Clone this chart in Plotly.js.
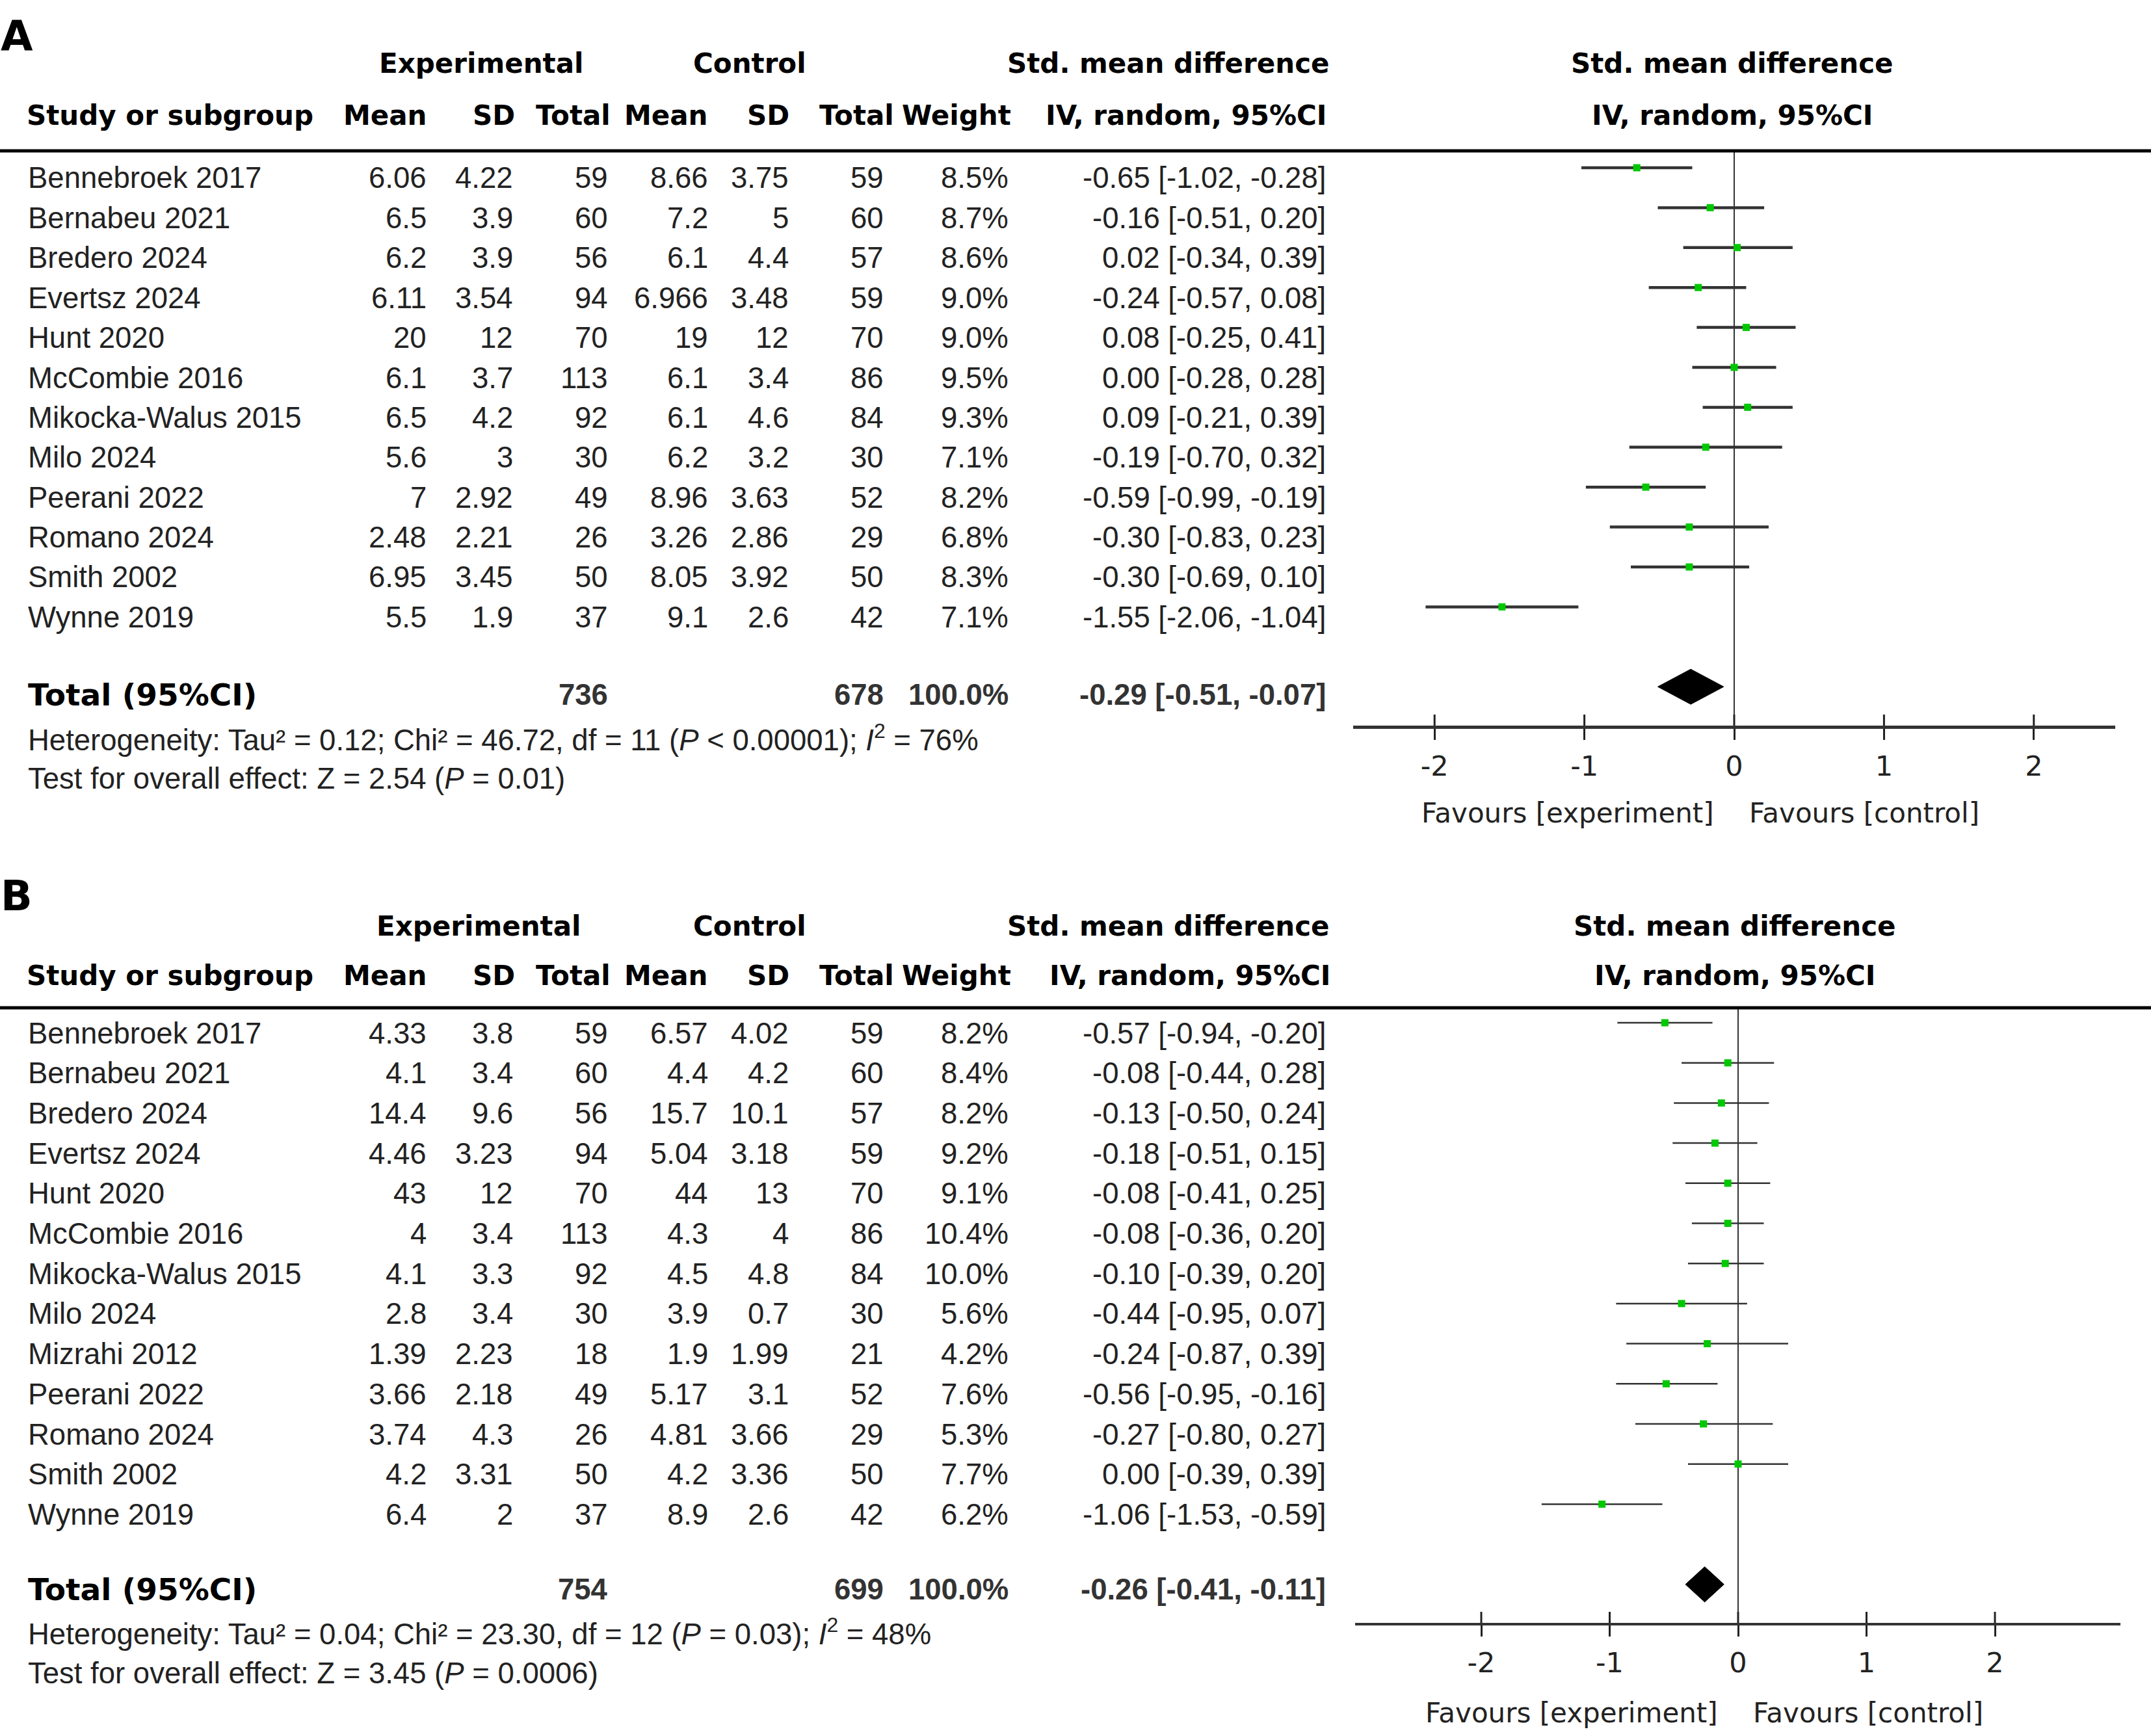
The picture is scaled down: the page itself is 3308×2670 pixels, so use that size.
<!DOCTYPE html>
<html><head><meta charset="utf-8">
<script src="https://cdn.plot.ly/plotly-3.0.1.min.js"></script>
<style>html,body{margin:0;padding:0;background:#fff}#chart{width:3308px;height:2670px}</style>
</head><body><div id="chart"></div>
<script>
// ---------------- DATA: panel A ----------------
const studiesA = ['Bennebroek 2017','Bernabeu 2021','Bredero 2024','Evertsz 2024','Hunt 2020','McCombie 2016','Mikocka-Walus 2015','Milo 2024','Peerani 2022','Romano 2024','Smith 2002','Wynne 2019'];
const expMeanA = ['6.06','6.5','6.2','6.11','20','6.1','6.5','5.6','7','2.48','6.95','5.5'];
const expSdA   = ['4.22','3.9','3.9','3.54','12','3.7','4.2','3','2.92','2.21','3.45','1.9'];
const expNA    = [59,60,56,94,70,113,92,30,49,26,50,37];
const ctlMeanA = ['8.66','7.2','6.1','6.966','19','6.1','6.1','6.2','8.96','3.26','8.05','9.1'];
const ctlSdA   = ['3.75','5','4.4','3.48','12','3.4','4.6','3.2','3.63','2.86','3.92','2.6'];
const ctlNA    = [59,60,57,59,70,86,84,30,52,29,50,42];
const weightA  = ['8.5%','8.7%','8.6%','9.0%','9.0%','9.5%','9.3%','7.1%','8.2%','6.8%','8.3%','7.1%'];
const smdA = [-0.65,-0.16,0.02,-0.24,0.08,0.00,0.09,-0.19,-0.59,-0.30,-0.30,-1.55];
const loA  = [-1.02,-0.51,-0.34,-0.57,-0.25,-0.28,-0.21,-0.70,-0.99,-0.83,-0.69,-2.06];
const hiA  = [-0.28,0.20,0.39,0.08,0.41,0.28,0.39,0.32,-0.19,0.23,0.10,-1.04];
const totalA = [736, 678, '100.0%'];
const pooledA = [-0.29,-0.51,-0.07];
const hetA = ['0.12','46.72','11','< 0.00001','76%'];
const testA = ['2.54','= 0.01'];

// ---------------- DATA: panel B ----------------
const studiesB = ['Bennebroek 2017','Bernabeu 2021','Bredero 2024','Evertsz 2024','Hunt 2020','McCombie 2016','Mikocka-Walus 2015','Milo 2024','Mizrahi 2012','Peerani 2022','Romano 2024','Smith 2002','Wynne 2019'];
const expMeanB = ['4.33','4.1','14.4','4.46','43','4','4.1','2.8','1.39','3.66','3.74','4.2','6.4'];
const expSdB   = ['3.8','3.4','9.6','3.23','12','3.4','3.3','3.4','2.23','2.18','4.3','3.31','2'];
const expNB    = [59,60,56,94,70,113,92,30,18,49,26,50,37];
const ctlMeanB = ['6.57','4.4','15.7','5.04','44','4.3','4.5','3.9','1.9','5.17','4.81','4.2','8.9'];
const ctlSdB   = ['4.02','4.2','10.1','3.18','13','4','4.8','0.7','1.99','3.1','3.66','3.36','2.6'];
const ctlNB    = [59,60,57,59,70,86,84,30,21,52,29,50,42];
const weightB  = ['8.2%','8.4%','8.2%','9.2%','9.1%','10.4%','10.0%','5.6%','4.2%','7.6%','5.3%','7.7%','6.2%'];
const smdB = [-0.57,-0.08,-0.13,-0.18,-0.08,-0.08,-0.10,-0.44,-0.24,-0.56,-0.27,0.00,-1.06];
const loB  = [-0.94,-0.44,-0.50,-0.51,-0.41,-0.36,-0.39,-0.95,-0.87,-0.95,-0.80,-0.39,-1.53];
const hiB  = [-0.20,0.28,0.24,0.15,0.25,0.20,0.20,0.07,0.39,-0.16,0.27,0.39,-0.59];
const totalB = [754, 699, '100.0%'];
const pooledB = [-0.26,-0.41,-0.11];
const hetB = ['0.04','23.30','12','= 0.03','48%'];
const testB = ['3.45','= 0.0006'];

// tick labels / header texts
const tickVals = [-2,-1,0,1,2];
const tickText = ['-2','-1','0','1','2'];
const favLeft = 'Favours [experiment]';
const favRight = 'Favours [control]';

// ---------------- LAYOUT GEOMETRY (pixels) ----------------
const W = 3308, H = 2670;
const PX = x => x / W, PY = y => 1 - y / H;
const GREEN = '#00c800';
const TXT = '#222222';
const BOLD = 'DejaVu Sans, Verdana, sans-serif';
const BODY = 'Liberation Sans, Arial, sans-serif';

const geomA = {label:'A', labelY:56, grpY:97, colY:177, lineY:232,
  txt0:274, step:61.4, ci0:258, totIdx:13, totY:1068, hetY:1135, testY:1197,
  axisY:1116, axL:2080.5, axR:3253.4, zeroX:2667, unit:230.4,
  favY:1250, expC:740, ivC:1824, fHdrC:2664, ciLW:4.5, mk:11};
const geomB = {label:'B', labelY:1378, grpY:1424, colY:1500, lineY:1550,
  txt0:1589, step:61.7, ci0:1573, totIdx:14, totY:2444, hetY:2510, testY:2573,
  axisY:2496, axL:2084, axR:3261, zeroX:2673, unit:197.5,
  favY:2634, expC:736, ivC:1831, fHdrC:2668, ciLW:2.5, mk:11};

const colRight = [657, 790, 936, 1090, 1214, 1360, 1552, 2040];
const hdrRight = [658, 793, 940, 1090, 1215, 1376, 1556];
const hdrCols = ['Mean','SD','Total','Mean','SD','Total','Weight'];

const annotations = [];
const shapes = [];
const traces = [];
const layout = {width:W, height:H, margin:{l:0,r:0,t:0,b:0}, paper_bgcolor:'#fff', plot_bgcolor:'rgba(0,0,0,0)', showlegend:false};

function txt(text, x, y, anchor, font, size, color) {
  annotations.push({text:text, x:PX(x), y:PY(y), xref:'paper', yref:'paper', showarrow:false,
    xanchor:anchor, yanchor:'middle', borderpad:0,
    font:{family:font, size:size, color:color||TXT}});
}
const fmt = v => v.toFixed(2);
const ciStr = (e,l,h) => fmt(e) + ' [' + fmt(l) + ', ' + fmt(h) + ']';

function panel(g, xa, ya, studies, cols, smd, lo, hi, totals, pooled, het, test) {
  // header texts
  txt('<b>'+g.label+'</b>', 0, g.labelY, 'left', BOLD, 64, '#000');
  txt('<b>Experimental</b>', g.expC, g.grpY, 'center', BOLD, 42, '#000');
  txt('<b>Control</b>', 1153, g.grpY, 'center', BOLD, 42, '#000');
  txt('<b>Std. mean difference</b>', 1797, g.grpY, 'center', BOLD, 42, '#000');
  txt('<b>Study or subgroup</b>', 40, g.colY, 'left', BOLD, 42, '#000');
  hdrCols.forEach((h,i) => txt('<b>'+h+'</b>', hdrRight[i], g.colY, 'right', BOLD, 42, '#000'));
  txt('<b>IV, random, 95%CI</b>', g.ivC, g.colY, 'center', BOLD, 42, '#000');
  txt('<b>Std. mean difference</b>', g.fHdrC, g.grpY, 'center', BOLD, 42, '#000');
  txt('<b>IV, random, 95%CI</b>', g.fHdrC, g.colY, 'center', BOLD, 42, '#000');
  shapes.push({type:'line', xref:'paper', yref:'paper', x0:0, x1:1, y0:PY(g.lineY), y1:PY(g.lineY), line:{color:'#000', width:5}});

  // rows
  studies.forEach((s,i) => {
    const y = g.txt0 + g.step*i;
    txt(s, 42, y, 'left', BODY, 45.5);
    cols.forEach((arr,c) => txt(String(arr[i]), colRight[c], y, 'right', BODY, 45.5));
    txt(ciStr(smd[i], lo[i], hi[i]), colRight[7], y, 'right', BODY, 45.5);
  });
  // totals
  txt('<b>Total (95%CI)</b>', 42, g.totY, 'left', BOLD, 47, '#000');
  txt('<b>'+totals[0]+'</b>', colRight[2], g.totY, 'right', BODY, 45.5, '#333');
  txt('<b>'+totals[1]+'</b>', colRight[5], g.totY, 'right', BODY, 45.5, '#333');
  txt('<b>'+totals[2]+'</b>', colRight[6], g.totY, 'right', BODY, 45.5, '#333');
  txt('<b>'+ciStr(pooled[0], pooled[1], pooled[2])+'</b>', colRight[7], g.totY, 'right', BODY, 45.5, '#333');
  txt('Heterogeneity: Tau² = '+het[0]+'; Chi² = '+het[1]+', df = '+het[2]+' (<i>P</i> '+het[3]+'); <i>I</i><sup>2</sup> = '+het[4], 42, g.hetY, 'left', BODY, 45.5);
  txt('Test for overall effect: Z = '+test[0]+' (<i>P</i> '+test[1]+')', 42, g.testY, 'left', BODY, 45.5);

  // axes
  const xName = xa === 'x' ? 'xaxis' : 'xaxis' + xa.slice(1);
  const yName = ya === 'y' ? 'yaxis' : 'yaxis' + ya.slice(1);
  const rowTop = (g.lineY - g.ci0) / g.step;
  const rowBot = (g.axisY - g.ci0) / g.step;
  const domH = g.axisY - g.lineY;
  layout[yName] = {domain:[PY(g.axisY), PY(g.lineY)], range:[rowBot, rowTop], visible:false, fixedrange:true, anchor:xa};
  layout[xName] = {domain:[PX(g.axL), PX(g.axR)],
    range:[(g.axL - g.zeroX)/g.unit, (g.axR - g.zeroX)/g.unit], anchor:ya,
    showgrid:false, zeroline:true, zerolinecolor:'#333', zerolinewidth:2.5,
    showline:true, linecolor:'#333', linewidth:label4(g),
    ticks:'outside', ticklen:17, tickwidth:3, tickcolor:'#222',
    tickvals:tickVals, ticktext:tickText, ticklabelstandoff:4,
    tickfont:{family:BOLD, size:43, color:TXT}, fixedrange:true};
  tickVals.forEach(t => shapes.push({type:'line', xref:xa, yref:ya+' domain', x0:t, x1:t, y0:0, y1:17/domH, line:{color:'#222', width:3}}));

  // CI lines
  const lx = [], ly = [];
  smd.forEach((_,i) => { lx.push(lo[i], hi[i], null); ly.push(i, i, null); });
  traces.push({type:'scatter', mode:'lines', x:lx, y:ly, xaxis:xa, yaxis:ya, line:{color:'#333', width:g.ciLW}, hoverinfo:'skip'});
  // point estimates
  const idx = smd.map((_,i) => i);
  traces.push({type:'scatter', mode:'markers', x:smd, y:idx, xaxis:xa, yaxis:ya,
    marker:{symbol:'square', size:g.mk, color:GREEN, line:{width:0}}, hoverinfo:'skip'});
  // pooled diamond
  const r = g.totIdx, h = 0.44;
  traces.push({type:'scatter', mode:'lines', fill:'toself', fillcolor:'#000',
    x:[pooled[1], pooled[0], pooled[2], pooled[0], pooled[1]],
    y:[r, r-h, r, r+h, r], xaxis:xa, yaxis:ya, line:{color:'#000', width:1}, hoverinfo:'skip'});

  // favours labels
  txt(favLeft, g.zeroX - 30, g.favY, 'right', BOLD, 42);
  txt(favRight, g.zeroX + 22, g.favY, 'left', BOLD, 42);
}
function label4(g) { return g.label === 'A' ? 4.5 : 3.5; }

panel(geomA, 'x', 'y', studiesA, [expMeanA, expSdA, expNA, ctlMeanA, ctlSdA, ctlNA, weightA], smdA, loA, hiA, totalA, pooledA, hetA, testA);
panel(geomB, 'x2', 'y2', studiesB, [expMeanB, expSdB, expNB, ctlMeanB, ctlSdB, ctlNB, weightB], smdB, loB, hiB, totalB, pooledB, hetB, testB);

layout.annotations = annotations;
layout.shapes = shapes;
Plotly.newPlot('chart', traces, layout, {staticPlot:true, displayModeBar:false});
</script>
</body></html>
